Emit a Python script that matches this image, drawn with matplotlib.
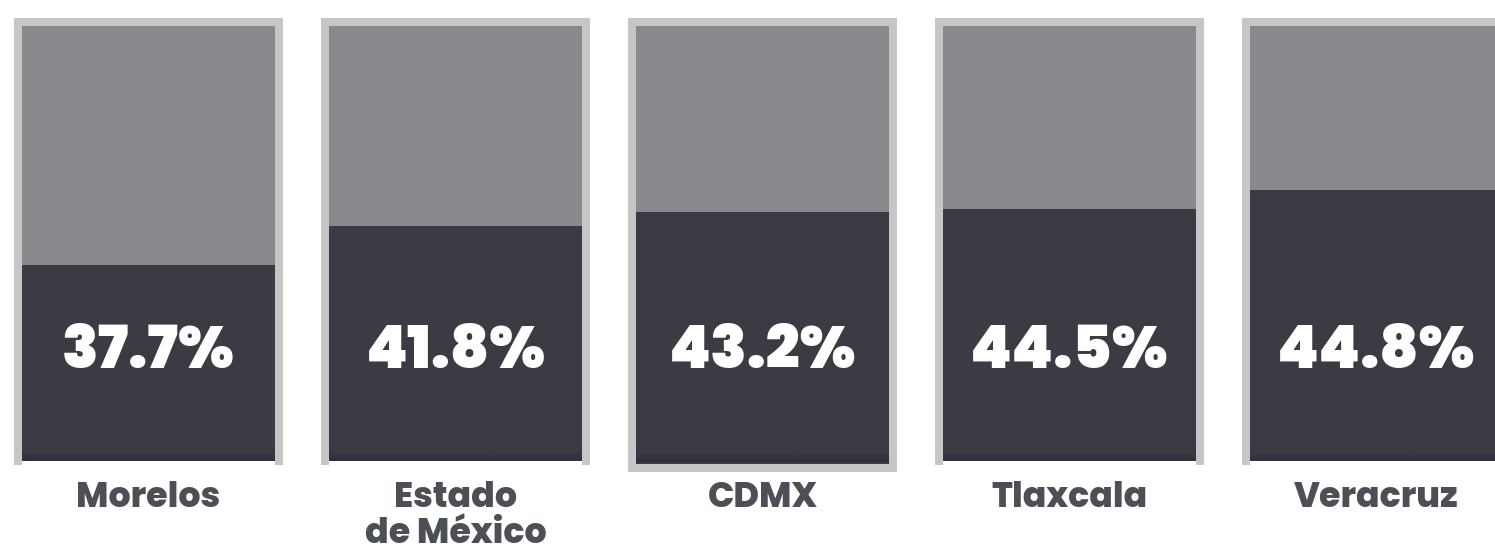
import numpy as np
import matplotlib.pyplot as plt
import matplotlib.font_manager as fm

# Data
states = ["Morelos", "Estado\nde México", "CDMX", "Tlaxcala", "Veracruz"]
pct_labels = ["37.7%", "41.8%", "43.2%", "44.5%", "44.8%"]
# fill level of the dark part (share of panel height)
fill_levels = [0.446, 0.536, 0.575, 0.575, 0.618]
framed_bottom = [False, False, True, False, False]

BG_GRAY = "#88898d"
DARK = "#3b3b43"
SHADE = "#2c303a"
FRAME = "#c6c6c6"
LABEL = "#4d4f56"

W, H = 1495, 550
fig = plt.figure(figsize=(W / 100, H / 100), dpi=100)
fig.patch.set_facecolor("white")

# pick a heavy geometric sans that has static extra-bold / black files
font = "Inter"
heavy = {}
for f in fm.fontManager.ttflist:
    if isinstance(f.weight, int) and f.weight >= 800 and f.style == "normal":
        heavy.setdefault(f.name, set()).add(f.weight)
for cand in ["Poppins", "Inter"]:
    if cand in heavy:
        font = cand
        break
pct_weight = 900 if 900 in heavy.get(font, {900}) else "bold"
lab_weight = 800 if 800 in heavy.get(font, {800}) else pct_weight

panel_left = 18        # mid-line of first frame, px
panel_step = 307
panel_w = 261
top_px = 22
bottom_px = 461

# vertical gradient for the soft shade at the foot of the dark fill
shade_rgba = np.zeros((50, 1, 4))
shade_rgba[..., :3] = [int(SHADE[j:j + 2], 16) / 255 for j in (1, 3, 5)]
shade_rgba[:, 0, 3] = np.linspace(0, 1, 50) ** 1.5

for i, name in enumerate(states):
    x0 = panel_left + i * panel_step
    bot = bottom_px + (7 if framed_bottom[i] else 0)
    span = bot - top_px
    ax = fig.add_axes([x0 / W, 1 - bot / H, panel_w / W, span / H])
    ax.set_facecolor(BG_GRAY)
    ax.bar([0.5], [fill_levels[i]], width=1.0, color=DARK, zorder=1)
    ax.imshow(shade_rgba, extent=[0, 1, (bot - 462) / span, (bot - 448) / span],
              origin="upper", aspect="auto", zorder=2, interpolation="bilinear")
    ax.set_xlim(0, 1)
    ax.set_ylim(0, 1)
    for side in ["top", "left", "right", "bottom"]:
        ax.spines[side].set_color(FRAME)
        ax.spines[side].set_linewidth(8 * 0.72)
        ax.spines[side].set_zorder(3)
    if not framed_bottom[i]:
        ax.spines["bottom"].set_visible(False)
    ax.set_xticks([])
    ax.set_yticks([])

    ax.text(0.5, (bot - 368) / span, pct_labels[i], transform=ax.transAxes,
            ha="center", va="baseline", color="white", fontsize=43,
            fontfamily=font, fontweight=pct_weight, zorder=4)
    for k, line in enumerate(name.split("\n")):
        ax.text(0.5, (bot - 507 - 36 * k) / span, line, transform=ax.transAxes,
                ha="center", va="baseline", color=LABEL, fontsize=25,
                fontfamily=font, fontweight=lab_weight, clip_on=False)

fig.savefig("out.png", dpi=100, facecolor="white")
